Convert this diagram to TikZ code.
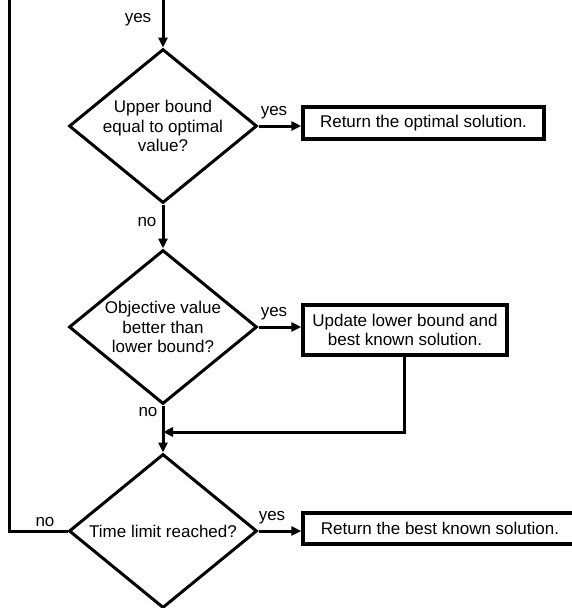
\documentclass[tikz,border=0pt]{standalone}
\usepackage{fontspec}
\setmainfont{Liberation Sans}
\usetikzlibrary{shapes.geometric,arrows.meta}
\begin{document}
\begin{tikzpicture}[x=1pt,y=-1pt,
  every node/.style={font=\fontsize{17}{19.5}\selectfont},
  conn/.style={line width=3pt},
  arr/.style={conn,-{Triangle[length=10pt,width=9pt]}},
  decision/.style={diamond,draw,line width=3pt,inner sep=-8pt,shape aspect=1.22,
    minimum width=188pt,minimum height=154pt,align=center},
  actbox/.style={rectangle,draw,line width=3.5pt,inner sep=0pt,align=center},
  lbl/.style={inner sep=0pt}
]
\useasboundingbox (0,0) rectangle (572,608);
\clip (0,0) rectangle (572,608);

\coordinate (top) at (163,-5);
\coordinate (lt) at (9,-5);

\node[decision] (d1) at (163,126) {Upper bound\\equal to optimal\\value?};
\node[decision] (d2) at (163,327) {Objective value\\better than\\lower bound?};
\node[decision] (d3) at (163,531) {Time limit reached?};

\node[actbox,minimum width=241pt,minimum height=32pt] (b1) at (423.5,123) {Return the optimal solution.};
\node[actbox,minimum width=204pt,minimum height=50pt] (b2) at (405,330) {Update lower bound and\\ best known solution.};
\node[actbox,minimum width=274pt,minimum height=31pt] (b3) at (440,528.5) {Return the best known solution.};

\coordinate (merge) at (163,432);

% connectors
\draw[arr] (top) -- (d1.north);
\draw[arr] (d1.east) -- (d1.east -| b1.west);
\draw[arr] (d1.south) -- (d2.north);
\draw[arr] (d2.east) -- (d2.east -| b2.west);
\draw[conn] (d2.south) -- (merge);
\draw[arr] (merge) -- (d3.north);
\draw[arr] (b2.south -| 404,0) -- (404,432) -- (merge);
\draw[arr] (d3.east) -- (d3.east -| b3.west);
\draw[conn] (d3.west) -- (d3.west -| lt) -- (lt);

% labels
\node[lbl] (l1) at (138,20) {yes};
\node[lbl] (l2) at (274,113) {yes};
\node[lbl] (l3) at (147,222) {no};
\node[lbl] (l4) at (274,314) {yes};
\node[lbl] (l5) at (148,412) {no};
\node[lbl] (l6) at (45,522) {no};
\node[lbl] (l7) at (272,518) {yes};
\end{tikzpicture}
\end{document}
